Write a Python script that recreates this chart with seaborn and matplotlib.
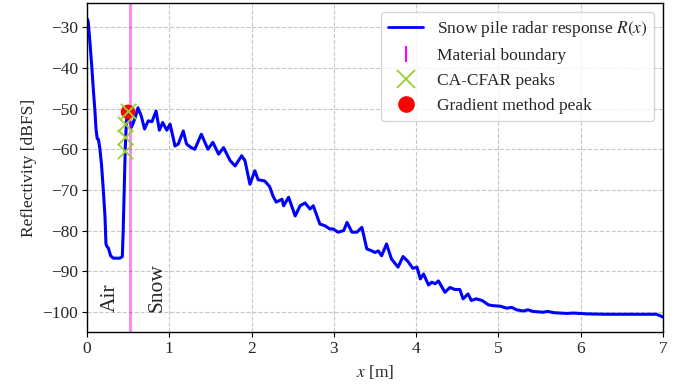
import numpy as np
import pandas as pd
import matplotlib
matplotlib.use('Agg')
import matplotlib.pyplot as plt
import seaborn as sns
from matplotlib.lines import Line2D

# 雷达响应曲线
x_m = [0.0, 0.015, 0.03, 0.045, 0.06, 0.08, 0.097, 0.11, 0.125, 0.14,
       0.158, 0.178, 0.198, 0.219, 0.231, 0.245, 0.26, 0.288, 0.32, 0.36,
       0.40, 0.43, 0.44, 0.455, 0.465, 0.48, 0.495, 0.52, 0.54, 0.58,
       0.62, 0.66, 0.70, 0.745, 0.79, 0.84, 0.88, 0.92, 0.97, 1.01,
       1.07, 1.11, 1.17, 1.21, 1.26, 1.31, 1.39, 1.47, 1.53, 1.60,
       1.66, 1.74, 1.80, 1.88, 1.92, 1.98, 2.04, 2.08, 2.16, 2.22,
       2.26, 2.30, 2.37, 2.39, 2.45, 2.53, 2.59, 2.65, 2.71, 2.75,
       2.83, 2.89, 2.95, 2.99, 3.05, 3.12, 3.16, 3.22, 3.28, 3.34,
       3.40, 3.46, 3.50, 3.54, 3.58, 3.64, 3.70, 3.78, 3.84, 3.90,
       3.96, 4.01, 4.05, 4.09, 4.15, 4.19, 4.23, 4.27, 4.35, 4.41,
       4.47, 4.53, 4.57, 4.63, 4.67, 4.73, 4.80, 4.88, 4.94, 5.02,
       5.10, 5.16, 5.22, 5.30, 5.36, 5.42, 5.54, 5.60, 5.67, 5.83,
       5.91, 6.07, 6.31, 6.64, 6.92, 6.98, 7.0]
refl_db = [-27.8, -28.5, -32.0, -36.0, -40.0, -46.0, -50.5, -55.0, -57.4, -57.6,
           -60.0, -64.0, -69.8, -76.4, -83.3, -84.0, -84.3, -86.2, -86.8, -86.8,
           -86.8, -86.4, -80.4, -68.2, -60.0, -53.0, -51.0, -53.0, -54.6, -52.6,
           -49.8, -51.8, -55.0, -53.0, -53.2, -50.6, -55.3, -53.4, -55.3, -53.8,
           -59.2, -58.7, -55.5, -58.7, -59.5, -60.0, -56.3, -60.0, -58.3, -61.2,
           -59.6, -62.8, -64.1, -61.6, -62.8, -68.6, -65.3, -67.5, -67.8, -69.2,
           -71.5, -73.0, -72.3, -73.9, -71.8, -76.4, -73.9, -73.2, -74.7, -73.9,
           -78.4, -78.8, -79.6, -79.6, -80.4, -80.0, -78.0, -80.4, -80.4, -79.2,
           -84.5, -85.0, -85.4, -85.0, -86.2, -83.3, -87.0, -89.0, -86.4, -87.6,
           -89.3, -89.0, -91.9, -90.7, -93.4, -92.7, -93.1, -92.4, -95.2, -94.0,
           -94.5, -94.5, -96.8, -95.6, -97.2, -96.8, -97.2, -98.3, -98.5, -98.6,
           -99.1, -98.9, -99.5, -99.8, -99.5, -99.9, -100.1, -99.9, -100.2, -100.4,
           -100.3, -100.5, -100.6, -100.6, -100.6, -101.1, -101.3]

# 材料边界与峰值
boundary_x = 0.52
cfar_x = [0.50, 0.46, 0.46, 0.46]
cfar_db = [-50.5, -53.8, -57.1, -60.5]
grad_x = [0.50]
grad_db = [-50.8]

sns.set_style('whitegrid', {'grid.linestyle': '--', 'grid.color': '0.78',
                            'axes.edgecolor': 'black',
                            'xtick.bottom': True, 'ytick.left': True})
plt.rcParams['font.family'] = ['Liberation Serif', 'DejaVu Serif']
plt.rcParams['mathtext.fontset'] = 'stix'
plt.rcParams['font.size'] = 12.5

df = pd.DataFrame({'x': x_m, 'R': refl_db})
cfar = pd.DataFrame({'x': cfar_x, 'R': cfar_db})
grad = pd.DataFrame({'x': grad_x, 'R': grad_db})

fig = plt.figure(figsize=(6.9, 3.87), dpi=100)
ax = fig.add_axes([0.126, 0.142, 0.835, 0.849])

sns.lineplot(data=df, x='x', y='R', color='blue', lw=2.2, ax=ax, zorder=2)
ax.axvline(boundary_x, color='magenta', alpha=0.5, lw=2, zorder=2.5)
sns.scatterplot(data=grad, x='x', y='R', color='red', s=110, edgecolor='none',
                ax=ax, zorder=3)
sns.scatterplot(data=cfar, x='x', y='R', color='yellowgreen', marker='x', s=120,
                linewidth=1.3, ax=ax, zorder=4)

ax.text(0.28, -100, 'Air', rotation=90, ha='center', va='bottom', fontsize=15.5)
ax.text(0.85, -100, 'Snow', rotation=90, ha='center', va='bottom', fontsize=15.5)

ax.set_xlim(0, 7)
ax.set_xlabel('$x$ [m]')
ax.set_ylabel('Reflectivity [dBFS]')
ax.tick_params(direction='out', length=3.5, width=0.8, color='black', pad=3)
for s in ax.spines.values():
    s.set_linewidth(1.0)

handles = [
    Line2D([], [], color='blue', lw=2, label='Snow pile radar response $R(x)$'),
    Line2D([], [], color='magenta', marker='|', ls='None', markersize=12,
           markeredgewidth=1.5, label='Material boundary'),
    Line2D([], [], color='yellowgreen', marker='x', ls='None', markersize=13,
           markeredgewidth=1.3, label='CA-CFAR peaks'),
    Line2D([], [], color='red', marker='o', ls='None', markersize=12,
           markeredgewidth=0, label='Gradient method peak'),
]
ax.legend(handles=handles, loc='upper right', frameon=True, edgecolor='0.8',
          framealpha=0.8, fontsize=12.5)

fig.savefig('out.png', dpi=100)
